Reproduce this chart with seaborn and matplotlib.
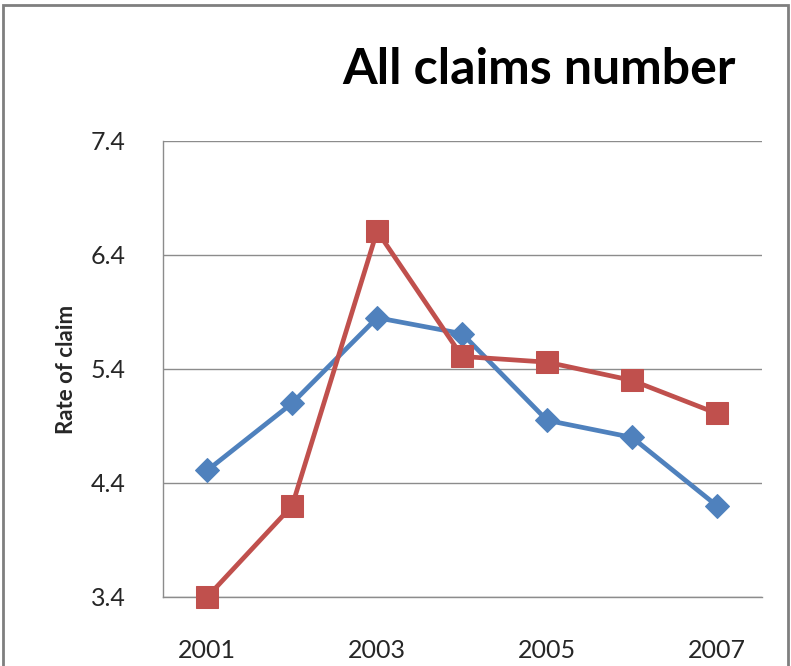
import matplotlib
matplotlib.use("Agg")
import matplotlib.pyplot as plt
import seaborn as sns
import pandas as pd
from matplotlib.patches import Rectangle

years = [2001, 2002, 2003, 2004, 2005, 2006, 2007]
series_a = [4.51, 5.10, 5.85, 5.71, 4.95, 4.80, 4.20]
series_b = [3.40, 4.20, 6.61, 5.51, 5.46, 5.30, 5.01]
y_ticks = [3.4, 4.4, 5.4, 6.4, 7.4]
x_ticks = [2001, 2003, 2005, 2007]

sns.set_style("white")
plt.rcParams['font.family'] = ['Lato', 'DejaVu Sans']

fig = plt.figure(figsize=(7.91, 6.66), dpi=100)
ax = fig.add_axes([163/791, (666-597)/666, (762-163)/791, (597-141)/666])

df_a = pd.DataFrame({"year": years, "rate": series_a})
df_b = pd.DataFrame({"year": years, "rate": series_b})
sns.lineplot(data=df_a, x="year", y="rate", ax=ax, color="#4F81BD", lw=3.4,
             marker="D", markersize=12, markeredgecolor="#4F81BD", zorder=3,
             clip_on=False)
sns.lineplot(data=df_b, x="year", y="rate", ax=ax, color="#C0504D", lw=3.4,
             marker="s", markersize=16, markeredgecolor="#C0504D", zorder=4,
             clip_on=False)

ax.set_xlim(2000.48, 2007.53)
ax.set_ylim(3.4, 7.4)
ax.set_yticks(y_ticks)
ax.set_yticklabels([f"{v:.1f}" for v in y_ticks])
ax.set_xticks(x_ticks)
ax.set_xticklabels([str(v) for v in x_ticks])
ax.tick_params(axis='both', length=0, labelsize=18, labelcolor="#262626")
ax.tick_params(axis='y', pad=27)
ax.tick_params(axis='x', pad=30)
ax.grid(axis='y', color="#8c8c8c", lw=1)
ax.set_axisbelow(True)
for s in ["top", "right"]:
    ax.spines[s].set_visible(False)
for s in ["left", "bottom"]:
    ax.spines[s].set_color("#8c8c8c")
    ax.spines[s].set_linewidth(1)
ax.set_xlabel("")
ax.set_ylabel("Rate of claim", fontsize=16, fontweight="bold", labelpad=10)

fig.text(539/791, 1 - 70/666, "All claims number", ha="center", va="center",
         fontsize=36, fontweight="bold", color="black")

fig.patches.append(Rectangle((3/791, -0.1), (788-3)/791, 1.1 - 5/666,
                             transform=fig.transFigure, fill=False,
                             edgecolor="#7f7f7f", lw=2))

fig.savefig("out.png", dpi=100)
